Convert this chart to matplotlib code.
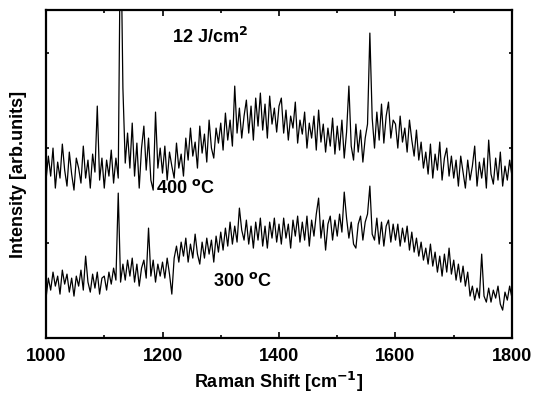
import numpy as np
import matplotlib
matplotlib.use("Agg")
import matplotlib.pyplot as plt
from matplotlib.ticker import MultipleLocator

# Intensidades (unidades arbitrarias), paso de 4 cm-1 desde 1000
i_400 = [
    158, 182, 162, 190, 150, 176, 160, 194, 168, 152, 186, 164, 148, 180, 170, 155, 192, 160, 178, 150, 184, 166, 232, 158, 180,
    150, 178, 162, 188, 155, 180, 160, 430, 250, 175, 205, 170, 215, 162, 195, 150, 190, 212, 168, 200, 158, 148, 226, 170, 190,
    165, 192, 158, 186, 172, 160, 195, 170, 184, 162, 200, 178, 210, 182, 196, 170, 212, 185, 204, 176, 218, 190, 180, 210, 195,
    215, 188, 225, 198, 218, 192, 252, 205, 230, 200, 222, 238, 205, 232, 198, 240, 212, 245, 208, 234, 200, 242, 214, 230, 206,
    232, 240, 205, 228, 198, 222, 210, 236, 195, 218, 204, 226, 190, 215, 200, 222, 188, 228, 196, 214, 186, 210, 192, 220, 184,
    212, 188, 218, 180, 206, 252, 192, 178, 214, 186, 208, 176, 200, 214, 305, 220, 190, 226, 198, 234, 195, 222, 236, 200, 218,
    214, 190, 222, 196, 210, 186, 218, 198, 182, 208, 178, 196, 170, 186, 164, 194, 160, 184, 168, 196, 158, 180, 190, 162, 182,
    160, 178, 152, 182, 166, 150, 178, 158, 172, 192, 152, 176, 160, 180, 150, 198, 164, 154, 180, 158, 186, 152, 172, 158, 178, 162,
]
i_300 = [
    40, 60, 48, 66, 52, 62, 44, 68, 54, 64, 46, 60, 42, 62, 52, 68, 48, 82, 56, 46, 64, 50, 66, 44, 60,
    62, 48, 66, 54, 70, 58, 145, 56, 74, 58, 78, 62, 80, 56, 74, 52, 70, 78, 60, 110, 62, 78, 56, 74, 62,
    76, 60, 80, 64, 44, 80, 92, 76, 96, 82, 100, 76, 94, 80, 104, 84, 74, 96, 80, 100, 84, 98, 76, 102, 86,
    106, 88, 110, 92, 116, 94, 112, 96, 130, 108, 98, 118, 94, 112, 90, 116, 98, 120, 92, 112, 90, 116, 100, 120, 96,
    114, 94, 120, 100, 114, 90, 118, 102, 122, 96, 116, 98, 122, 92, 118, 102, 124, 140, 100, 118, 88, 114, 122, 98, 118,
    102, 124, 106, 146, 120, 100, 116, 94, 90, 114, 122, 98, 116, 124, 152, 104, 98, 120, 94, 116, 92, 112, 118, 96, 114,
    98, 114, 92, 110, 96, 112, 88, 106, 86, 100, 82, 96, 78, 90, 74, 94, 72, 86, 66, 82, 62, 84, 66, 90, 64,
    78, 58, 74, 56, 72, 52, 66, 42, 52, 38, 50, 40, 84, 42, 36, 50, 36, 48, 40, 52, 34, 28, 46, 38, 52, 40,
]

x_400 = np.linspace(1000, 1800, len(i_400))
x_300 = np.linspace(1000, 1800, len(i_300))

plt.rcParams['font.family'] = ['Liberation Sans', 'DejaVu Sans']
plt.rcParams['font.weight'] = 'bold'

fig = plt.figure(figsize=(5.37, 4.03), dpi=100)
ax = fig.add_axes([0.0857, 0.161, 0.8677, 0.814])

ax.plot(x_400, i_400, color='black', lw=0.9)
ax.plot(x_300, i_300, color='black', lw=0.9)

ax.set_xlim(1000, 1800)
ax.set_ylim(0, 328)
ax.xaxis.set_major_locator(MultipleLocator(200))
ax.xaxis.set_minor_locator(MultipleLocator(100))
ax.yaxis.set_major_locator(MultipleLocator(95))
ax.set_yticklabels([])
ax.tick_params(which='both', direction='in', top=True, right=True, width=1.2)
ax.tick_params(axis='x', which='major', length=4, labelsize=13, pad=7)
ax.tick_params(axis='x', which='minor', length=2.5)
ax.tick_params(axis='y', length=2)
for s in ax.spines.values():
    s.set_linewidth(1.6)

ax.set_xlabel("Raman Shift [cm$^{\\mathbf{-1}}$]", fontsize=13, fontweight='bold', labelpad=4)
ax.set_ylabel("Intensity [arb.units]", fontsize=13, fontweight='bold', labelpad=10)

ax.text(1282, 301, "12 J/cm$^{\\mathbf{2}}$", fontsize=13, fontweight='bold', ha='center', va='center')
ax.text(1240, 150, "400 $^{\\mathbf{o}}$C", fontsize=13, fontweight='bold', ha='center', va='center')
ax.text(1338, 57, "300 $^{\\mathbf{o}}$C", fontsize=13, fontweight='bold', ha='center', va='center')

fig.savefig("out.png", dpi=100)
